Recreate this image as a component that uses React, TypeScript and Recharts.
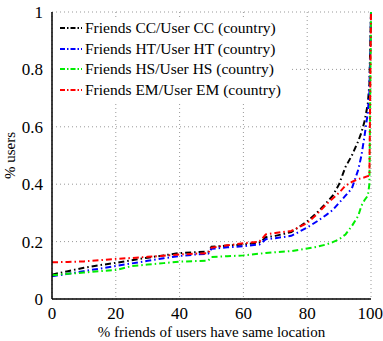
import { LineChart, Line, XAxis, YAxis, CartesianGrid, Label } from "recharts"

const xs = [0, 5, 10, 15, 20, 25, 30, 35, 40, 45, 49, 50, 55, 60, 65, 66, 67, 70, 75, 80, 83, 86, 88, 90, 92, 94, 96, 97, 98, 99, 99.5, 100]

const cc = [0.085, 0.097, 0.109, 0.118, 0.126, 0.135, 0.144, 0.152, 0.16, 0.163, 0.165, 0.182, 0.186, 0.19, 0.197, 0.205, 0.215, 0.22, 0.233, 0.27, 0.3, 0.335, 0.36, 0.4, 0.46, 0.5, 0.55, 0.58, 0.62, 0.68, 0.75, 1]
const ht = [0.079, 0.088, 0.097, 0.106, 0.115, 0.124, 0.133, 0.142, 0.15, 0.155, 0.158, 0.175, 0.18, 0.184, 0.19, 0.198, 0.208, 0.212, 0.22, 0.249, 0.27, 0.293, 0.31, 0.335, 0.36, 0.385, 0.45, 0.5, 0.57, 0.65, 0.72, 1]
const hs = [0.083, 0.088, 0.092, 0.097, 0.101, 0.115, 0.12, 0.125, 0.13, 0.132, 0.134, 0.146, 0.149, 0.152, 0.158, 0.159, 0.16, 0.163, 0.167, 0.176, 0.182, 0.19, 0.198, 0.208, 0.225, 0.254, 0.29, 0.325, 0.345, 0.36, 0.4, 1]
const em = [0.128, 0.129, 0.131, 0.135, 0.14, 0.143, 0.147, 0.151, 0.155, 0.158, 0.16, 0.179, 0.187, 0.194, 0.2, 0.212, 0.225, 0.23, 0.237, 0.265, 0.295, 0.33, 0.35, 0.37, 0.395, 0.408, 0.418, 0.421, 0.424, 0.428, 0.43, 1]

const xTicks = [0, 20, 40, 60, 80, 100]
const yTicks = [0, 0.2, 0.4, 0.6, 0.8, 1]

const series = [
  { key: "cc", name: "Friends CC/User CC (country)", color: "#000000" },
  { key: "ht", name: "Friends HT/User HT (country)", color: "#0000ff" },
  { key: "hs", name: "Friends HS/User HS (country)", color: "#00ee00" },
  { key: "em", name: "Friends EM/User EM (country)", color: "#ff0000" },
]

const rows = xs.map((x, i) => ({ x, cc: cc[i], ht: ht[i], hs: hs[i], em: em[i] }))

const font = "'Liberation Serif', 'Times New Roman', Times, serif"
const dash = "6 3 1.5 3"

export default function App() {
  return (
    <div style={{ position: "absolute", left: 0, top: 0, width: 383, height: 341, background: "#fff", fontFamily: font }}>
      <LineChart width={383} height={341} data={rows} margin={{ top: 12, right: 12, bottom: 0, left: 0 }}>
        <CartesianGrid stroke="#999" strokeDasharray="1 3" />
        <XAxis
          dataKey="x"
          type="number"
          domain={[0, 100]}
          ticks={xTicks}
          height={42}
          tickLine={false}
          axisLine={{ stroke: "#000", strokeWidth: 1.5 }}
          tick={{ fill: "#000", fontSize: 17, fontFamily: font }}
          tickMargin={2}
        >
          <Label value="% friends of users have same location" position="insideBottom" offset={4} style={{ fill: "#000", fontSize: 15, fontFamily: font }} />
        </XAxis>
        <XAxis xAxisId="top" dataKey="x" type="number" domain={[0, 100]} orientation="top" height={0} tick={false} tickLine={false} axisLine={{ stroke: "#000", strokeWidth: 1.5 }} />
        <YAxis
          type="number"
          domain={[0, 1]}
          ticks={yTicks}
          width={52}
          tickLine={false}
          axisLine={{ stroke: "#000", strokeWidth: 1.5 }}
          tick={{ fill: "#000", fontSize: 17, fontFamily: font }}
          tickMargin={3}
        >
          <Label value="% users" angle={-90} position="insideLeft" offset={10} style={{ fill: "#000", fontSize: 15, fontFamily: font, textAnchor: "middle" }} />
        </YAxis>
        <YAxis yAxisId="right" orientation="right" domain={[0, 1]} width={0} tick={false} tickLine={false} axisLine={{ stroke: "#000", strokeWidth: 1.5 }} />
        {series.map((s) => (
          <Line
            key={s.key}
            dataKey={s.key}
            name={s.name}
            type="linear"
            stroke={s.color}
            strokeWidth={2}
            strokeDasharray={dash}
            dot={false}
            isAnimationActive={false}
          />
        ))}
      </LineChart>
      <div style={{ position: "absolute", left: 56, top: 18, width: 236, background: "#fff", paddingBottom: 2 }}>
        {series.map((s) => (
          <div key={s.key} style={{ display: "flex", alignItems: "center", height: 20.5 }}>
            <svg width={22} height={10} style={{ marginLeft: 4, marginRight: 3, flexShrink: 0 }}>
              <line x1={0} y1={5} x2={22} y2={5} stroke={s.color} strokeWidth={2} strokeDasharray="5 2 1.5 2" />
            </svg>
            <span style={{ fontSize: 15.5, color: "#000", whiteSpace: "nowrap" }}>{s.name}</span>
          </div>
        ))}
      </div>
    </div>
  )
}
